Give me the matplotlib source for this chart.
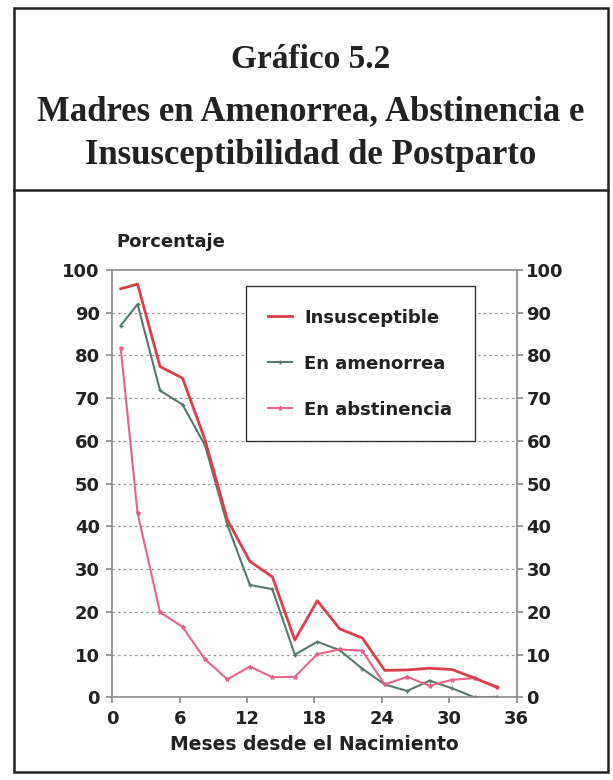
import matplotlib
matplotlib.use("Agg")
import matplotlib.pyplot as plt
from matplotlib.patches import Rectangle
from matplotlib.lines import Line2D

# months since birth (two-month groups)
meses = [0.75, 2.25, 4.25, 6.25, 8.25, 10.25, 12.25, 14.25, 16.25,
         18.25, 20.25, 22.25, 24.25, 26.25, 28.25, 30.25, 32.25, 34.25]
insusceptible = [95.6, 96.7, 77.4, 74.7, 60.3, 41.5, 31.8, 28.2, 13.4,
                 22.6, 16.0, 13.9, 6.3, 6.4, 6.8, 6.5, 4.5, 2.3]
amenorrea = [87.0, 92.0, 71.8, 68.5, 59.0, 40.3, 26.3, 25.3, 10.0,
             13.0, 11.0, 6.7, 3.0, 1.5, 3.9, 2.1, 0.0, 0.1]
abstinencia = [81.7, 43.1, 19.9, 16.5, 8.9, 4.2, 7.2, 4.7, 4.8,
               10.1, 11.2, 10.9, 3.0, 4.8, 2.7, 4.1, 4.5, 2.5]

yticks = list(range(0, 101, 10))
xticks = list(range(0, 37, 6))

c_ins = "#dc3f4c"
c_ame = "#56796b"
c_abs = "#e8628a"
tickfont = dict(family="DejaVu Sans", weight="bold", size=13, color="#222222")

fig = plt.figure(figsize=(6.13, 7.8), dpi=100)

# outer frame and divider
fig.add_artist(Rectangle((14/613, 1-772/780), 594/613, 764/780, transform=fig.transFigure,
                         fill=False, edgecolor="#222222", linewidth=1.8))
fig.add_artist(Line2D([14/613, 608/613], [1-190/780, 1-190/780], transform=fig.transFigure,
                      color="#222222", linewidth=1.8))

serif = dict(family="Liberation Serif", weight="bold", color="#222222", ha="center", va="center")
fig.text(311/613, 1-60/780, "Gráfico 5.2", fontsize=24, **serif)
fig.text(311/613, 1-112/780, "Madres en Amenorrea, Abstinencia e", fontsize=25, **serif)
fig.text(311/613, 1-155/780, "Insusceptibilidad de Postparto", fontsize=25, **serif)

ax = fig.add_axes([112.3/613, 82.7/780, 404.4/613, 427.3/780])
ax.plot(meses, insusceptible, color=c_ins, linewidth=2.0, label="Insusceptible", zorder=3)
ax.plot(meses, amenorrea, color=c_ame, linewidth=1.5, marker="+", markersize=3,
        label="En amenorrea", zorder=2)
ax.plot(meses, abstinencia, color=c_abs, linewidth=1.5, marker="*", markersize=3,
        label="En abstinencia", zorder=2)

ax.set_xlim(0, 36)
ax.set_ylim(0, 100)
ax.set_xticks(xticks)
ax.set_yticks(yticks)
for y in yticks[1:-1]:
    ax.axhline(y, color="#999999", linewidth=0.9, linestyle=(0, (2, 2.5)), zorder=1)

for s in ax.spines.values():
    s.set_color("#8a8a8a")
    s.set_linewidth(1.2)
ax.tick_params(direction="out", length=4, color="#8a8a8a", width=1.2, pad=5)
ax.set_xticklabels([str(t) for t in xticks], fontdict=tickfont)
ax.set_yticklabels([str(t) for t in yticks], fontdict=tickfont)

ax2 = ax.twinx()
ax2.set_ylim(0, 100)
ax2.set_yticks(yticks)
ax2.set_yticklabels([str(t) for t in yticks], fontdict=tickfont)
ax2.tick_params(direction="out", length=4, color="#8a8a8a", width=1.2, pad=3)
for s in ax2.spines.values():
    s.set_visible(False)

ax.set_xlabel("Meses desde el Nacimiento", fontdict=dict(family="DejaVu Sans", weight="bold",
              size=13.5, color="#222222"), labelpad=5)
ax.text(0.01, 1.045, "Porcentaje", transform=ax.transAxes, ha="left", va="bottom",
        fontdict=dict(family="DejaVu Sans", weight="bold", size=13, color="#222222"))

leg = ax.legend(loc="upper left", bbox_to_anchor=(0.33, 0.962), fancybox=False,
                edgecolor="#333333", framealpha=1, handlelength=1.3, labelspacing=1.55,
                borderpad=1.25, handletextpad=0.7, borderaxespad=0,
                prop=dict(family="DejaVu Sans", weight="bold", size=13))
leg.get_frame().set_linewidth(1.0)
for t in leg.get_texts():
    t.set_color("#222222")

fig.savefig("out.png", dpi=100)
